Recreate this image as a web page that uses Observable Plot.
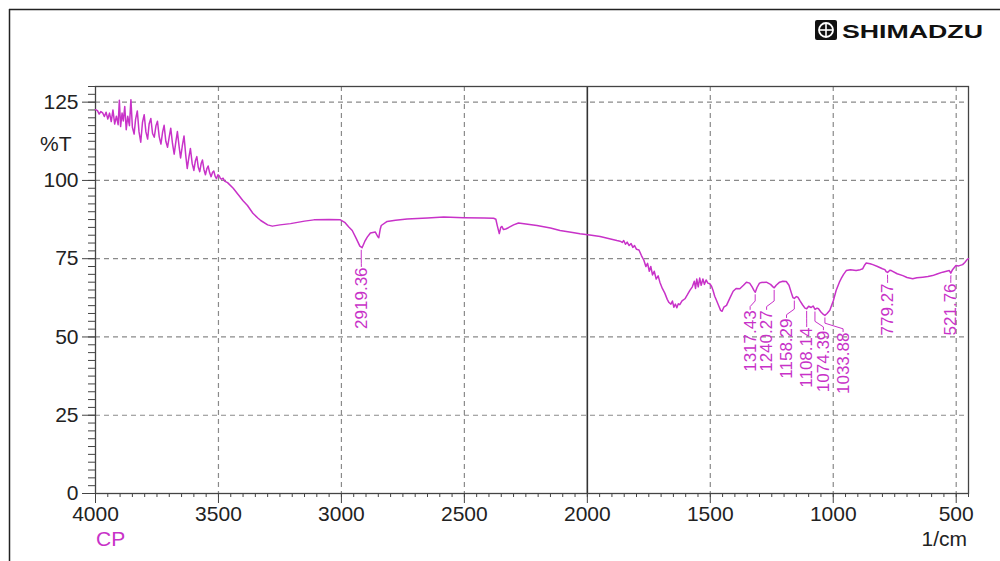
<!DOCTYPE html>
<html>
<head>
<meta charset="utf-8">
<script src="https://cdn.jsdelivr.net/npm/d3@7"></script>
<script src="https://cdn.jsdelivr.net/npm/@observablehq/plot@0.6"></script>
<style>
  html, body { margin: 0; padding: 0; background: #fff; }
  #wrap { position: relative; width: 1000px; height: 561px; overflow: hidden; }
  #wrap > svg { position: absolute; left: 0; top: 0; }
</style>
</head>
<body>
<div id="wrap"></div>
<script>
// ---------- data ----------
const wavenumber = [
  4000, 3992, 3985, 3978, 3971, 3964, 3957, 3950, 3943, 3936, 3929, 3922, 3915, 3908, 3903, 3898, 3892, 3887,
  3881, 3875, 3869, 3862, 3856, 3850, 3843, 3837, 3830, 3823, 3816, 3809, 3802, 3795, 3788, 3782, 3775, 3768,
  3761, 3754, 3748, 3741, 3734, 3727, 3721, 3714, 3707, 3700, 3694, 3687, 3680, 3673, 3667, 3660, 3654, 3647,
  3640, 3633, 3627, 3620, 3614, 3607, 3600, 3594, 3588, 3582, 3576, 3570, 3565, 3559, 3553, 3547, 3542, 3536,
  3530, 3524, 3519, 3513, 3508, 3502, 3497, 3492, 3487, 3481, 3475,
  3463, 3440, 3420, 3400, 3382, 3360, 3340, 3328,
  3300, 3281, 3250, 3207, 3150, 3112, 3050, 3004, 2985, 2970, 2956, 2940, 2925, 2916, 2905, 2895, 2882, 2862,
  2852, 2848, 2842, 2838, 2814, 2780, 2733, 2650, 2584, 2503, 2420, 2381, 2372, 2366, 2358, 2352, 2347, 2341,
  2332, 2321, 2300, 2280, 2250, 2205, 2150, 2111, 2060, 2030, 1990, 1948, 1910, 1880, 1867, 1858, 1852, 1845,
  1838, 1830, 1822, 1815, 1808, 1800, 1790, 1780, 1770, 1762, 1755, 1748, 1742, 1735, 1728, 1720, 1712, 1705,
  1695, 1685, 1675, 1668, 1660, 1654, 1648, 1642, 1636, 1630, 1624, 1615, 1603, 1593, 1583, 1573, 1565, 1560,
  1555, 1549, 1543, 1537, 1530, 1524, 1517, 1510, 1502, 1495, 1489, 1482, 1475, 1465, 1458, 1452, 1445, 1434,
  1420, 1407, 1395, 1380, 1365, 1353, 1340, 1330, 1322, 1317, 1310, 1300, 1292, 1272, 1255, 1245, 1240, 1232,
  1218, 1205, 1191, 1180, 1170, 1164, 1158, 1150, 1144, 1135, 1125, 1115, 1108, 1100, 1090, 1082, 1074, 1066,
  1060, 1050, 1040, 1034, 1025, 1014, 1000, 988, 975, 968, 958, 947, 930, 907, 890, 880, 872, 866,
  850, 839, 820, 800, 790, 785, 779, 770, 764, 740, 717, 700, 677, 660, 636, 615, 596, 575,
  555, 540, 528, 522, 515, 501, 490, 474, 465, 456, 450
];
const transmittance = [
  122.6, 122.3, 121.2, 122, 121.6, 120.4, 121.8, 119.6, 121.5, 118.8, 122.5, 118, 120.5, 117.8, 125.6, 117.2, 121.5, 119,
  123.6, 116.2, 120.5, 117.5, 125.8, 117, 114.8, 119.5, 122.2, 115.5, 112.2, 118.5, 121, 115.5, 113.2, 118, 119.8, 115,
  113.8, 117.5, 118.9, 114, 111.6, 115.5, 117.6, 112.5, 110.6, 114, 116.7, 111.8, 108.4, 112.5, 115.6, 110.8, 107.2, 111,
  114.2, 108, 103.8, 107.5, 110.2, 105.5, 103.2, 106.2, 107.6, 104.2, 102.8, 105.5, 106.5, 103.5, 101.8, 103.8, 104.6, 102.5,
  101.2, 102.6, 103, 101.2, 100.6, 101.8, 101.5, 100.6, 100.4, 100.7, 99.8,
  99.3, 97.5, 95.5, 93.5, 92, 89.5, 88, 87.2,
  85.8, 85.4, 85.8, 86.2, 87, 87.4, 87.5, 87.4, 86.5, 85.1, 84, 81.5, 79, 78.5, 80.5, 81.9, 83.2, 83.5,
  82, 81.7, 84.5, 85.6, 86.9, 87.3, 87.7, 88, 88.3, 88.1, 88, 87.9, 87.6, 85.5, 83, 85, 85.3, 84.3,
  84.5, 84.9, 85.8, 86.4, 86.1, 85.6, 84.8, 84, 83.4, 83, 82.6, 82.1, 81.4, 80.8, 80.6, 80.2, 80.8, 79.6,
  80.3, 79.2, 79.8, 78.6, 79.2, 78, 77.8, 76, 74.5, 72.5, 73.5, 71, 72.5, 69.8, 71, 68.5, 69.5, 67.5,
  65.5, 64, 62, 61, 60.5, 61.5, 59.5, 60.5, 59.3, 60.6, 60.3, 61.5, 62.2, 63.5, 64.9, 66, 67.8, 65.5,
  68.5, 66, 68.8, 66.5, 68.5, 66.8, 68.2, 67.2, 67, 66.2, 64.9, 63, 61.7, 59.8, 58.5, 58.2, 59.5, 60.1,
  62.5, 64.6, 65.5, 65.4, 66.5, 67.5, 67.2, 66, 64.8, 64.3, 65.8, 67.2, 67.4, 67.5, 66.8, 66, 65.7, 66.5,
  67.5, 67.8, 67.7, 66.5, 64, 62.6, 62.3, 62.9, 62.7, 61.5, 60.3, 59.2, 59, 59.8, 59.4, 59.9, 58.8, 59.2,
  59, 58, 57.2, 56.9, 57.5, 58.5, 61.5, 64.9, 67.5, 68.6, 70, 71.2, 71.5, 71.2, 71.5, 71.8, 73, 73.6,
  73.4, 73.1, 72.5, 71.8, 71.5, 70.9, 70.6, 71.3, 71.2, 70.2, 69.6, 69, 68.6, 68.9, 69.1, 69.3, 69.6, 70.2,
  70.7, 71, 71.2, 70.4, 71.5, 72.8, 72.7, 73.1, 73.8, 74.7, 75
];

// peak annotations
const peakLabels = ["2919.36", "1317.43", "1240.27", "1158.29", "1108.14", "1074.39", "1033.88", "779.27", "521.76"];
const peakWavenumber = [2919.36, 1317.43, 1240.27, 1158.29, 1108.14, 1074.39, 1033.88, 779.27, 521.76];
const peakTransmittance = [78.5, 64.3, 65.7, 62.3, 59, 58.8, 56.9, 70.6, 70.4];
const labelWavenumber = [2919, 1338, 1271, 1190, 1108, 1040, 960, 779, 522];
const labelTopTransmittance = [72.2, 58.5, 58.5, 55.9, 53, 52, 51.4, 67.1, 67.1];

// axes
const xTickValues = [4000, 3500, 3000, 2500, 2000, 1500, 1000, 500];
const xGridValues = [3500, 3000, 2500, 1500, 1000, 500];
const yTickValues = [0, 25, 50, 75, 100, 125];
const yGridValues = [25, 50, 75, 100, 125];
const xDomain = [4000, 450];
const yDomain = [0, 130];
const xMinorTicks = d3.range(450, 4001, 50);
const yMinorTicks = d3.range(0, 130.01, 2.5);

// ---------- build ----------
const MAG = "#c832c8";
const spectrum = wavenumber.map((w, i) => ({w, t: transmittance[i]}));
const labels = peakLabels.map((s, i) => ({
  label: s, px: peakWavenumber[i], pt: peakTransmittance[i],
  lx: labelWavenumber[i], lt: labelTopTransmittance[i]
}));
const leaders = [];
labels.forEach((d, i) => {
  const yStart = d.pt - 0.8;
  const yBend = Math.min(d.lt + 3, yStart);
  leaders.push({id: i, x: d.px, y: yStart});
  leaders.push({id: i, x: d.px, y: yBend});
  leaders.push({id: i, x: d.lx, y: Math.min(d.lt + 1.2, yBend)});
  leaders.push({id: i, x: d.lx, y: d.lt + 0.3});
});

const chart = Plot.plot({
  width: 1000,
  height: 561,
  marginLeft: 95,
  marginRight: 32,
  marginTop: 86,
  marginBottom: 68,
  style: {fontFamily: "'Liberation Sans', Arial, sans-serif", fontSize: "21px", color: "#333", background: "transparent", overflow: "visible"},
  x: {domain: xDomain},
  y: {domain: yDomain},
  marks: [
    Plot.gridX(xGridValues, {stroke: "#8a8a8a", strokeOpacity: 1, strokeWidth: 1.2, strokeDasharray: "5,4"}),
    Plot.gridY(yGridValues, {stroke: "#8a8a8a", strokeOpacity: 1, strokeWidth: 1.2, strokeDasharray: "5,4"}),
    Plot.ruleX([2000], {stroke: "#333", strokeWidth: 1.6}),
    Plot.frame({stroke: "#444", strokeWidth: 1.3}),
    Plot.axisY(yMinorTicks, {tickSize: 7, tickFormat: () => "", stroke: "#444"}),
    Plot.axisY(yTickValues, {tickSize: 13, tickPadding: 4, fontSize: 21, stroke: "#444", fill: "#222"}),
    Plot.axisX(xMinorTicks, {tickSize: 4, tickFormat: () => "", stroke: "#444"}),
    Plot.axisX(xTickValues, {tickSize: 10, tickPadding: 3, fontSize: 21, tickFormat: "d", stroke: "#444", fill: "#222"}),
    Plot.line(spectrum, {x: "w", y: "t", stroke: MAG, strokeWidth: 1.5}),
    Plot.line(leaders, {x: "x", y: "y", z: "id", stroke: MAG, strokeWidth: 1}),
    Plot.text(labels, {
      x: "lx", y: "lt", text: "label", rotate: -90, textAnchor: "end", lineAnchor: "middle",
      fill: MAG, fontSize: 17, fontFamily: "'Liberation Sans Narrow', 'Liberation Sans', Arial, sans-serif"
    })
  ]
});
document.getElementById("wrap").appendChild(chart);

// overlay: page frame, logo, units
const ns = "http://www.w3.org/2000/svg";
const ov = d3.select("#wrap").append("svg")
  .attr("xmlns", ns).attr("width", 1000).attr("height", 561)
  .style("font-family", "'Liberation Sans', Arial, sans-serif");
ov.append("line").attr("x1", 9).attr("y1", 9.5).attr("x2", 1000).attr("y2", 9.5).attr("stroke", "#222").attr("stroke-width", 1.5);
ov.append("line").attr("x1", 9.5).attr("y1", 9).attr("x2", 9.5).attr("y2", 561).attr("stroke", "#222").attr("stroke-width", 1.5);
// logo
const logo = ov.append("g");
logo.append("rect").attr("x", 815).attr("y", 20).attr("width", 22).attr("height", 20).attr("rx", 2).attr("fill", "#111");
logo.append("circle").attr("cx", 826).attr("cy", 30).attr("r", 7).attr("fill", "none").attr("stroke", "#fff").attr("stroke-width", 1.8);
logo.append("line").attr("x1", 819).attr("y1", 30).attr("x2", 833).attr("y2", 30).attr("stroke", "#fff").attr("stroke-width", 1.6);
logo.append("line").attr("x1", 826).attr("y1", 23).attr("x2", 826).attr("y2", 37).attr("stroke", "#fff").attr("stroke-width", 1.6);
logo.append("text").attr("x", 842).attr("y", 37.5).attr("font-size", 19).attr("font-weight", "bold")
  .attr("textLength", 141).attr("lengthAdjust", "spacingAndGlyphs").attr("fill", "#111").text("SHIMADZU");
ov.append("text").attr("x", 40).attr("y", 150.5).attr("font-size", 21).attr("fill", "#222").text("%T");
ov.append("text").attr("x", 96).attr("y", 546).attr("font-size", 21).attr("fill", MAG).text("CP");
ov.append("text").attr("x", 967).attr("y", 546).attr("font-size", 21).attr("text-anchor", "end").attr("fill", "#222").text("1/cm");
</script>
</body>
</html>
